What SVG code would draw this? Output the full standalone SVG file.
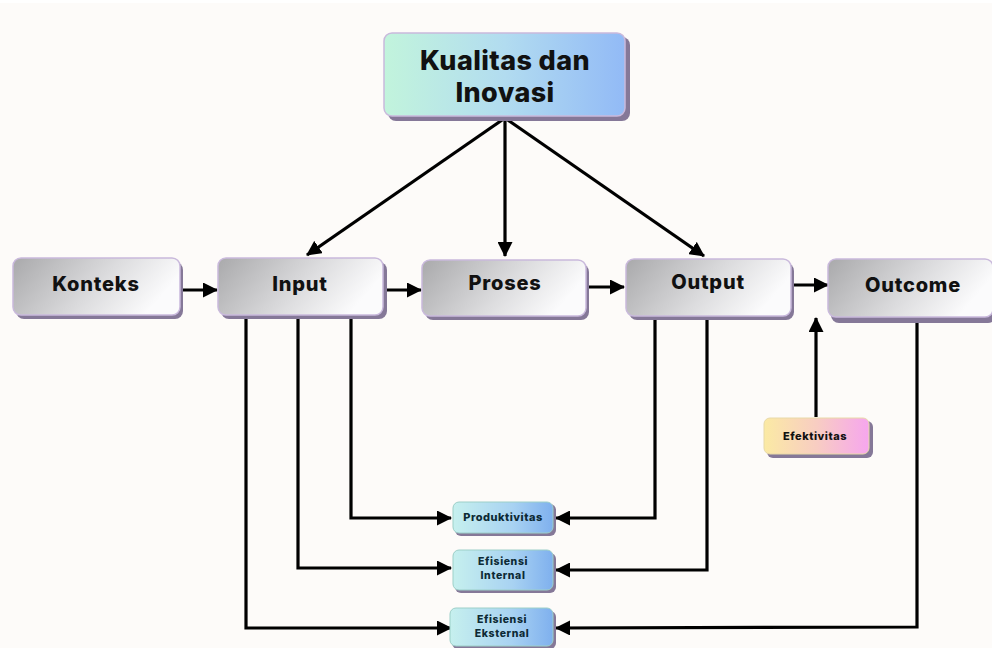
<svg xmlns="http://www.w3.org/2000/svg" width="992" height="648" viewBox="0 0 992 648">
<defs>
<linearGradient id="gGray" x1="0" y1="0" x2="1" y2="0.3">
<stop offset="0" stop-color="#a9a9ab"/><stop offset="0.6" stop-color="#dcdcde"/><stop offset="1" stop-color="#fbfbfc"/>
</linearGradient>
<linearGradient id="gTop" x1="0" y1="0" x2="1" y2="0">
<stop offset="0" stop-color="#c2f4dc"/><stop offset="0.5" stop-color="#b2dcf0"/><stop offset="1" stop-color="#92baf6"/>
</linearGradient>
<linearGradient id="gBlue" x1="0" y1="0" x2="1" y2="0">
<stop offset="0" stop-color="#c6f0ee"/><stop offset="0.6" stop-color="#a8d2f2"/><stop offset="1" stop-color="#7fb0ee"/>
</linearGradient>
<linearGradient id="gEfek" x1="0" y1="0" x2="1" y2="0">
<stop offset="0" stop-color="#fbeaa4"/><stop offset="0.5" stop-color="#f8cdc2"/><stop offset="1" stop-color="#f6a6ee"/>
</linearGradient>
<marker id="ah" markerUnits="userSpaceOnUse" markerWidth="15" markerHeight="15" viewBox="0 0 15 15" refX="14" refY="7.5" orient="auto">
<path d="M0,0 L15,7.5 L0,15 z" fill="#000"/>
</marker>
<style>
.sh{fill:#857898}
.bx{stroke:#c9b9dc;stroke-width:1.5}
.lbl{font-family:Inter,"Liberation Sans",Arial,sans-serif;font-weight:800;fill:#111;text-anchor:middle}
.big{font-size:20px;letter-spacing:0.8px}
.sm{font-size:11px;fill:#0d2a35;letter-spacing:0.5px}
.sm2{font-size:10.5px;fill:#0d2a35;letter-spacing:0.6px}
.ln{fill:none;stroke:#000;stroke-width:3.2}
</style>
</defs>
<rect x="0" y="0" width="992" height="648" fill="#fdfbf9"/>
<rect x="0" y="0" width="992" height="3" fill="#ffffff"/>

<g id="connectors">
<path class="ln" d="M505,118 L307,255" marker-end="url(#ah)"/>
<path class="ln" d="M505,118 L505,256" marker-end="url(#ah)"/>
<path class="ln" d="M505,118 L704,256" marker-end="url(#ah)"/>
<path class="ln" d="M182,290 L217,290" marker-end="url(#ah)"/>
<path class="ln" d="M387,290 L421,290" marker-end="url(#ah)"/>
<path class="ln" d="M589,287 L624,287" marker-end="url(#ah)"/>
<path class="ln" d="M793,285 L828,285" marker-end="url(#ah)"/>
<path class="ln" d="M816,417 L816,318" marker-end="url(#ah)"/>
<path class="ln" d="M351,318 L351,518 L451,518" marker-end="url(#ah)"/>
<path class="ln" d="M298,318 L298,568 L451,568" marker-end="url(#ah)"/>
<path class="ln" d="M246,318 L246,628 L451,628" marker-end="url(#ah)"/>
<path class="ln" d="M655,319 L655,518 L556,518" marker-end="url(#ah)"/>
<path class="ln" d="M707,319 L707,570 L556,570" marker-end="url(#ah)"/>
<path class="ln" d="M917,322 L917,627 L556,628" marker-end="url(#ah)"/>
</g>

<g id="kualitas">
<rect class="sh" x="388" y="37" width="242" height="84" rx="8"/>
<rect class="bx" x="384" y="33" width="241" height="83" rx="8" fill="url(#gTop)"/>
<text class="lbl" x="505" y="70" font-size="27" letter-spacing="0.4">Kualitas dan</text>
<text class="lbl" x="505" y="102" font-size="27" letter-spacing="0.4">Inovasi</text>
</g>

<g id="konteks">
<rect class="sh" x="16" y="262" width="167" height="57" rx="8"/>
<rect class="bx" x="13" y="258" width="167" height="57" rx="8" fill="url(#gGray)"/>
<text class="lbl big" x="96" y="291">Konteks</text>
</g>
<g id="input">
<rect class="sh" x="221" y="262" width="166" height="57" rx="8"/>
<rect class="bx" x="218" y="258" width="165" height="57" rx="8" fill="url(#gGray)"/>
<text class="lbl big" x="300" y="291">Input</text>
</g>
<g id="proses">
<rect class="sh" x="425" y="264" width="164" height="56" rx="8"/>
<rect class="bx" x="422" y="260" width="164" height="56" rx="8" fill="url(#gGray)"/>
<text class="lbl big" x="505" y="290">Proses</text>
</g>
<g id="output">
<rect class="sh" x="629" y="263" width="165" height="57" rx="8"/>
<rect class="bx" x="626" y="259" width="165" height="57" rx="8" fill="url(#gGray)"/>
<text class="lbl big" x="708" y="289">Output</text>
</g>
<g id="outcome">
<rect class="sh" x="831" y="263" width="165" height="60" rx="8"/>
<rect class="bx" x="828" y="259" width="165" height="58" rx="8" fill="url(#gGray)"/>
<text class="lbl big" x="913" y="292">Outcome</text>
</g>

<g id="efektivitas">
<rect class="sh" x="767" y="421" width="106" height="37" rx="6"/>
<rect x="764" y="418" width="105" height="36" rx="6" fill="url(#gEfek)" stroke="#e8d9a8" stroke-width="1"/>
<text class="lbl" x="815" y="440" font-size="11" fill="#2a1a1a" letter-spacing="0.5">Efektivitas</text>
</g>

<g id="produktivitas">
<rect class="sh" x="455" y="504" width="101" height="32" rx="6"/>
<rect x="453" y="502" width="100" height="31" rx="6" fill="url(#gBlue)" stroke="#9ccfc8" stroke-width="1"/>
<text class="lbl sm" x="503" y="521">Produktivitas</text>
</g>
<g id="efisiensi-internal">
<rect class="sh" x="455" y="553" width="101" height="40" rx="6"/>
<rect x="453" y="550" width="100" height="40" rx="6" fill="url(#gBlue)" stroke="#9ccfc8" stroke-width="1"/>
<text class="lbl sm2" x="503" y="565">Efisiensi</text>
<text class="lbl sm2" x="503" y="579">Internal</text>
</g>
<g id="efisiensi-eksternal">
<rect class="sh" x="452" y="611" width="104" height="38" rx="6"/>
<rect x="450" y="608" width="103" height="38" rx="6" fill="url(#gBlue)" stroke="#9ccfc8" stroke-width="1"/>
<text class="lbl sm2" x="502" y="623">Efisiensi</text>
<text class="lbl sm2" x="502" y="637">Eksternal</text>
</g>
</svg>
